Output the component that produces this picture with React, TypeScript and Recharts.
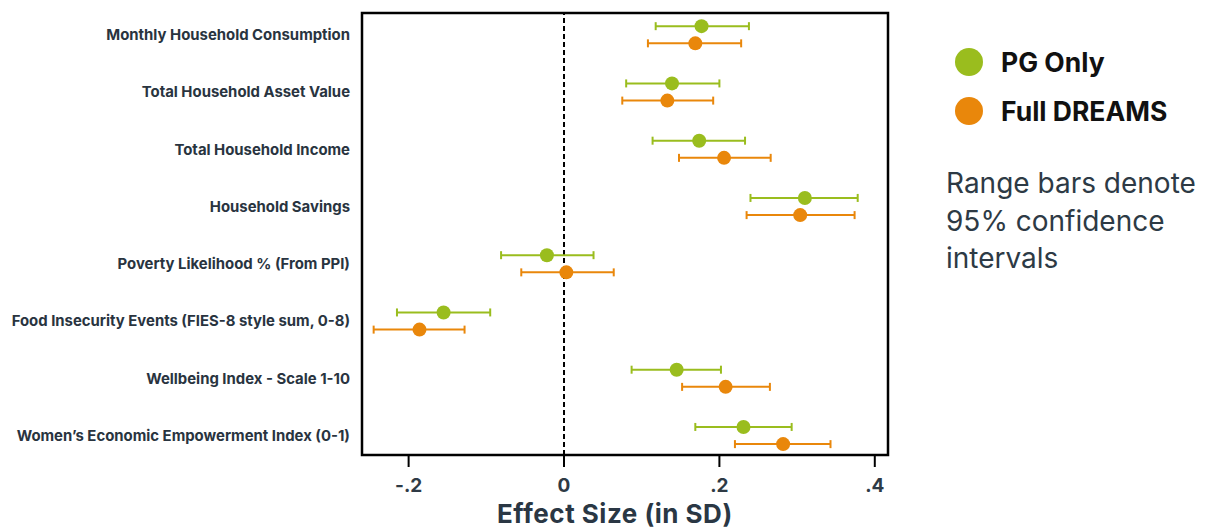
import { ScatterChart, Scatter, XAxis, YAxis, ErrorBar, ReferenceLine, ReferenceArea } from 'recharts'

const outcomes = [
  'Monthly Household Consumption',
  'Total Household Asset Value',
  'Total Household Income',
  'Household Savings',
  'Poverty Likelihood % (From PPI)',
  'Food Insecurity Events (FIES-8 style sum, 0-8)',
  'Wellbeing Index - Scale 1-10',
  'Women’s Economic Empowerment Index (0-1)',
]

// PG Only: estimate and 95% CI bounds
const pgEst = [0.177, 0.139, 0.174, 0.31, -0.022, -0.155, 0.145, 0.231]
const pgLo = [0.118, 0.08, 0.114, 0.24, -0.081, -0.215, 0.087, 0.169]
const pgHi = [0.238, 0.2, 0.233, 0.378, 0.038, -0.095, 0.202, 0.293]

// Full DREAMS
const drEst = [0.169, 0.133, 0.206, 0.304, 0.003, -0.186, 0.208, 0.282]
const drLo = [0.108, 0.075, 0.148, 0.235, -0.055, -0.245, 0.152, 0.22]
const drHi = [0.228, 0.192, 0.266, 0.374, 0.064, -0.128, 0.265, 0.343]

const xTicks = [-0.2, 0, 0.2, 0.4]
const X_DOMAIN: [number, number] = [-0.26, 0.417]
const Y_DOMAIN: [number, number] = [-0.38, 7.34]

const GREEN = '#9abd1e'
const ORANGE = '#e9870b'
const TEXT = '#29343f'

const build = (est: number[], lo: number[], hi: number[], shift: number) =>
  est.map((v, i) => ({ x: v, y: i + shift, err: [v - lo[i], hi[i] - v] }))

const pgData = build(pgEst, pgLo, pgHi, -0.15)
const drData = build(drEst, drLo, drHi, 0.15)

const fmtX = (v: number) => (v === 0 ? '0' : v.toFixed(1).replace('0.', '.'))

// eslint-disable-next-line @typescript-eslint/no-explicit-any
const dot = (color: string) => (p: any) => <circle cx={p.cx} cy={p.cy} r={7} fill={color} />

export default function App() {
  return (
    <div style={{ position: 'absolute', left: 0, top: 0, width: 1205, height: 530, fontFamily: 'Inter', background: '#fff', overflow: 'hidden' }}>
      <ScatterChart width={1205} height={530} margin={{ top: 13, right: 317, bottom: 45, left: 0 }}>
        <XAxis
          type="number"
          dataKey="x"
          domain={X_DOMAIN}
          allowDataOverflow
          ticks={xTicks}
          tickFormatter={fmtX}
          axisLine={false}
          tickSize={12}
          tickMargin={12}
          tickLine={{ stroke: '#000', strokeWidth: 2 }}
          tick={{ fill: '#2e3a45', fontSize: 19, fontWeight: 700, fontFamily: 'Inter' }}
          height={30}
        />
        <YAxis
          type="number"
          dataKey="y"
          domain={Y_DOMAIN}
          allowDataOverflow
          reversed
          ticks={[0, 1, 2, 3, 4, 5, 6, 7]}
          tickFormatter={(i: number) => outcomes[i] ?? ''}
          axisLine={false}
          tickLine={false}
          tickSize={0}
          tickMargin={12}
          width={362}
          tick={{ fill: TEXT, fontSize: 14.9, fontWeight: 700, fontFamily: 'Inter' }}
        />
        <ReferenceArea
          x1={X_DOMAIN[0]}
          x2={X_DOMAIN[1]}
          y1={Y_DOMAIN[0]}
          y2={Y_DOMAIN[1]}
          fill="#fff"
          fillOpacity={0}
          stroke="#000"
          strokeWidth={2.5}
          ifOverflow="visible"
        />
        <ReferenceLine x={0} stroke="#000" strokeWidth={2} strokeDasharray="5 3" />
        <Scatter data={pgData} isAnimationActive={false} shape={dot(GREEN)}>
          <ErrorBar dataKey="err" direction="x" width={4} strokeWidth={2} stroke={GREEN} isAnimationActive={false} />
        </Scatter>
        <Scatter data={drData} isAnimationActive={false} shape={dot(ORANGE)}>
          <ErrorBar dataKey="err" direction="x" width={4} strokeWidth={2} stroke={ORANGE} isAnimationActive={false} />
        </Scatter>
      </ScatterChart>

      <div style={{ position: 'absolute', left: 497, top: 498, fontSize: 26, letterSpacing: 0.5, fontWeight: 700, color: '#2a3744', whiteSpace: 'nowrap' }}>
        Effect Size (in SD)
      </div>

      <div style={{ position: 'absolute', left: 955, top: 46 }}>
        {[
          { name: 'PG Only', color: GREEN },
          { name: 'Full DREAMS', color: ORANGE },
        ].map((s) => (
          <div key={s.name} style={{ display: 'flex', alignItems: 'center', height: 32, marginBottom: 17 }}>
            <span style={{ width: 28, height: 28, borderRadius: 14, background: s.color, display: 'inline-block' }} />
            <span style={{ marginLeft: 18, fontSize: 26.5, fontWeight: 700, color: '#111' }}>{s.name}</span>
          </div>
        ))}
      </div>

      <div style={{ position: 'absolute', left: 946, top: 165, fontSize: 28, lineHeight: '37.5px', color: '#2d3a45', whiteSpace: 'nowrap' }}>
        Range bars denote
        <br />
        95% confidence
        <br />
        intervals
      </div>
    </div>
  )
}
